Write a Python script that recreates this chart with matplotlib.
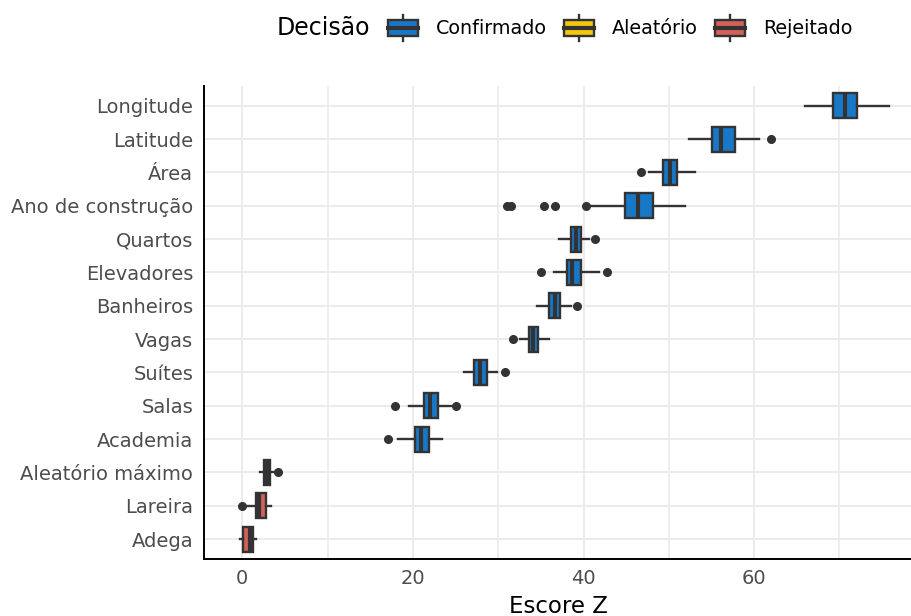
import matplotlib
matplotlib.use("Agg")
import matplotlib.pyplot as plt
from matplotlib.patches import Rectangle
from matplotlib.lines import Line2D
from matplotlib.legend_handler import HandlerBase

# Feature importance (Z score) distributions, top to bottom
features = ["Longitude", "Latitude", "Área", "Ano de construção", "Quartos",
            "Elevadores", "Banheiros", "Vagas", "Suítes", "Salas", "Academia",
            "Aleatório máximo", "Lareira", "Adega"]
decisions = ["Confirmado"] * 11 + ["Aleatório", "Rejeitado", "Rejeitado"]
whislo = [65.9, 52.4, 47.7, 40.7, 37.1, 36.5, 34.5, 32.5, 26.0, 19.6, 18.3, 2.1, 0.7, -0.3]
q1 = [69.2, 55.0, 49.3, 44.9, 38.5, 38.1, 35.9, 33.6, 27.2, 21.3, 20.2, 2.5, 1.6, 0.1]
med = [70.6, 56.1, 50.1, 46.4, 39.1, 38.7, 36.6, 34.1, 27.9, 22.0, 21.0, 2.9, 1.95, 0.9]
q3 = [72.1, 57.8, 51.0, 48.1, 39.7, 39.7, 37.3, 34.7, 28.7, 22.9, 21.9, 3.3, 2.8, 1.2]
whishi = [75.8, 60.6, 53.1, 51.9, 40.6, 41.8, 38.5, 35.9, 29.9, 24.6, 23.4, 3.8, 3.4, 1.6]
outliers = [[], [62.0], [46.7], [31.0, 31.5, 35.4, 36.6, 40.3], [41.4],
            [35.0, 42.8], [39.2], [31.7], [30.8], [17.9, 25.0], [17.1],
            [4.2], [-0.05], []]

legend_order = ["Confirmado", "Aleatório", "Rejeitado"]
palette = {"Confirmado": "#1878C8", "Aleatório": "#F2C80F", "Rejeitado": "#D4605A"}
EDGE = "#333333"
LW = 1.7
MED_LW = 3.0

fig = plt.figure(figsize=(9.12, 6.16), dpi=100)
ax = fig.add_axes([204.3 / 912, 57 / 616, 1 - 204.3 / 912, (559 - 85.7) / 616])

n = len(features)
positions = list(range(n, 0, -1))
stats = []
for i in range(n):
    stats.append(dict(label=features[i], whislo=whislo[i], q1=q1[i], med=med[i],
                      q3=q3[i], whishi=whishi[i], fliers=outliers[i]))

bp = ax.bxp(stats, positions=positions, vert=False, widths=0.75, patch_artist=True,
            showcaps=False, manage_ticks=False,
            boxprops=dict(edgecolor=EDGE, linewidth=LW),
            medianprops=dict(color=EDGE, linewidth=MED_LW, solid_capstyle="butt"),
            whiskerprops=dict(color=EDGE, linewidth=LW),
            flierprops=dict(marker="o", markerfacecolor=EDGE, markeredgecolor=EDGE,
                            markersize=5.5))
for patch, dec in zip(bp["boxes"], decisions):
    patch.set_facecolor(palette[dec])
for artist in bp["boxes"] + bp["medians"] + bp["whiskers"] + bp["fliers"]:
    artist.set_zorder(3)

ax.set_yticks(positions)
ax.set_yticklabels(features)
ax.set_xticks([0, 20, 40, 60])
ax.set_xticks([10, 30, 50, 70], minor=True)
ax.set_xlim(-4.45, 78.5)
ax.set_ylim(0.4, n + 0.6)

ax.grid(True, which="major", color="#EBEBEB", linewidth=1.4)
ax.grid(True, which="minor", axis="x", color="#EBEBEB", linewidth=1.2)
ax.set_axisbelow(True)
for side in ["top", "right"]:
    ax.spines[side].set_visible(False)
for side in ["left", "bottom"]:
    ax.spines[side].set_color("black")
    ax.spines[side].set_linewidth(1.4)
ax.tick_params(axis="both", which="both", length=0, labelsize=14,
               labelcolor="#4D4D4D")
ax.tick_params(axis="y", pad=8)
ax.tick_params(axis="x", pad=7)
ax.set_xlabel("Escore Z", fontsize=16.5, color="black", labelpad=5)


class BoxKeyHandler(HandlerBase):
    def create_artists(self, legend, orig_handle, xdescent, ydescent,
                       width, height, fontsize, trans):
        x0, y0 = -xdescent, -ydescent
        cx = x0 + width / 2
        cy = y0 + height / 2
        bh = height * 0.6
        whisk = Line2D([cx, cx], [y0, y0 + height], color=EDGE, lw=LW,
                       transform=trans)
        rect = Rectangle((x0, cy - bh / 2), width, bh,
                         facecolor=orig_handle.get_facecolor(), edgecolor=EDGE,
                         lw=LW, transform=trans)
        median = Line2D([x0, x0 + width], [cy, cy], color=EDGE, lw=MED_LW,
                        transform=trans)
        return [whisk, rect, median]


handles = [Rectangle((0, 0), 1, 1, facecolor=palette[d]) for d in legend_order]
leg = fig.legend(handles, legend_order, loc="center left",
                 bbox_to_anchor=(388 / 912, 1 - 28 / 616), ncol=3, frameon=False,
                 fontsize=13.8, handlelength=1.55, handleheight=1.75,
                 handletextpad=0.95, columnspacing=0.9, borderpad=0,
                 borderaxespad=0,
                 handler_map={Rectangle: BoxKeyHandler()})
fig.text(277 / 912, 1 - 28 / 616, "Decisão", fontsize=17, ha="left",
         va="center")

fig.savefig("out.png", dpi=100)
